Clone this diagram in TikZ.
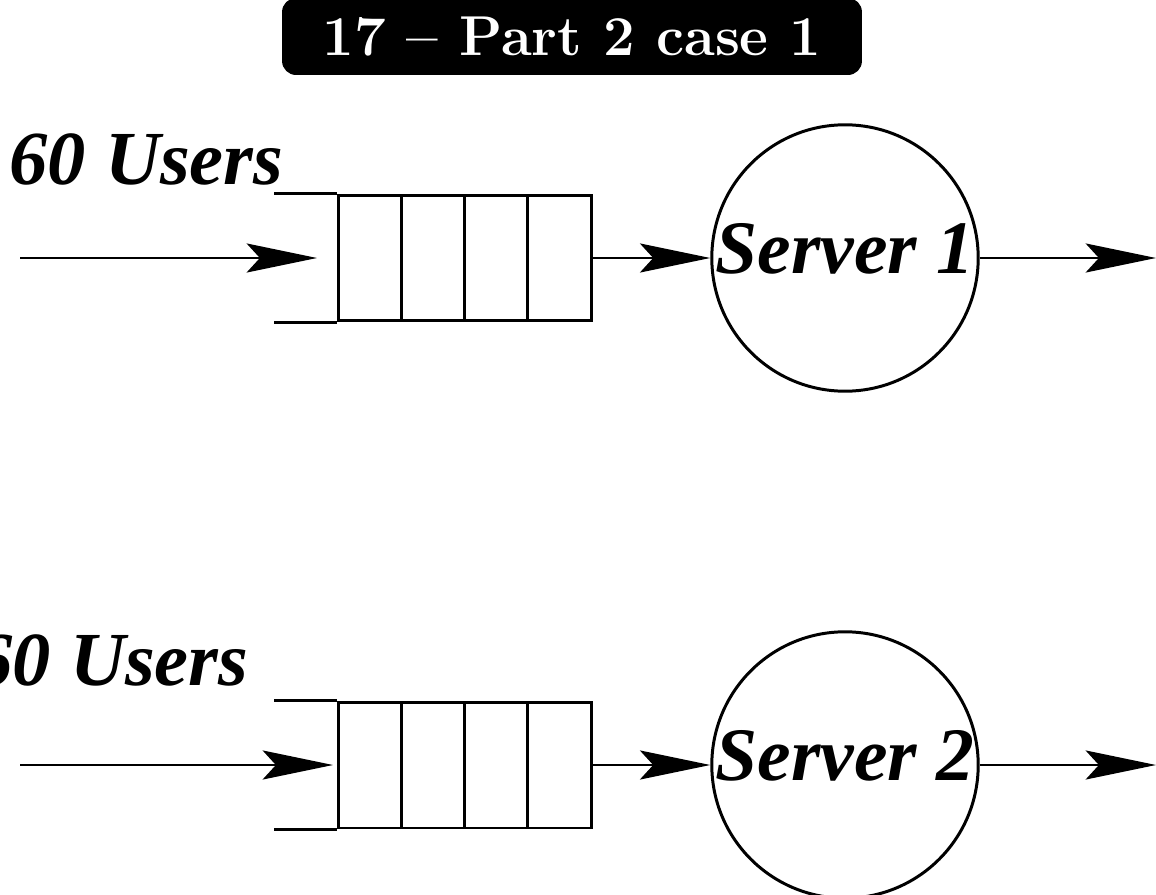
\documentclass[tikz,border=0pt]{standalone}
\usepackage{fontspec}
\newfontfamily\labelfont{Liberation Serif}
\usetikzlibrary{positioning, arrows.meta}

\begin{document}
\begin{tikzpicture}[x=0.02cm, y=-0.02cm, line width=1.7pt,
    >={Stealth[length=40pt, width=16.5pt, inset=7.5pt]},
    title/.style={fill=black, text=white, rounded corners=8pt, minimum width=11.6cm,
      minimum height=1.54cm, inner sep=0pt, font=\bfseries\fontsize{32}{38}\selectfont},
    users/.style={anchor=base west, inner sep=0pt, font=\labelfont\bfseries\itshape\fontsize{43.5}{50}\selectfont},
    cell/.style={draw, minimum width=1.265cm, minimum height=2.52cm, inner sep=0pt},
    server/.style={draw, circle, minimum size=5.24cm, inner sep=0pt, text depth=11pt,
      font=\labelfont\bfseries\itshape\fontsize{43}{50}\selectfont}]
  \useasboundingbox (0,0) rectangle (1156,895);

  \node[title] (ttl) at (572,36.5) {17 -- Part 2 case 1};

  % first station
  \node[users] (usr1) at (8,185) {60 Users};
  \foreach \i in {1,...,4}
    \node[cell] (qa\i) at ({306.4+63.25*\i},258) {};
  \draw (qa1.north west) -- ++(-63,0)
        (qa1.south west) -- ++(-63,0);
  \node[server] (srv1) at (845,258) {Server 1};
  \coordinate (ina) at (20,258);
  \coordinate (inatip) at (317,258);
  \coordinate (outa) at (1156,258);
  \draw[->] (ina) -- (inatip);
  \draw[->] (qa4.east) -- (srv1);
  \draw[->] (srv1) -- (outa);

  % second station
  \node[users] (usr2) at (-27,685) {60 Users};
  \foreach \i in {1,...,4}
    \node[cell] (qb\i) at ({306.4+63.25*\i},765) {};
  \draw (qb1.north west) -- ++(-63,0)
        (qb1.south west) -- ++(-63,0);
  \node[server] (srv2) at (845,765) {Server 2};
  \coordinate (inb) at (20,765);
  \coordinate (inbtip) at (333,765);
  \coordinate (outb) at (1156,765);
  \draw[->] (inb) -- (inbtip);
  \draw[->] (qb4.east) -- (srv2);
  \draw[->] (srv2) -- (outb);
\end{tikzpicture}
\end{document}
